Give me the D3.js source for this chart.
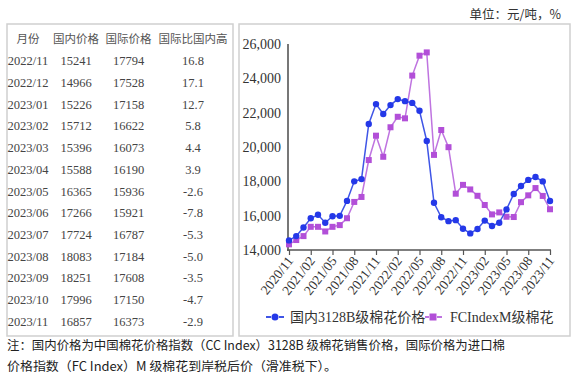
<!DOCTYPE html>
<html><head><meta charset="utf-8">
<script src="https://cdn.jsdelivr.net/npm/d3@7"></script>
<style>
html,body{margin:0;padding:0;background:#fff;}
svg{display:block;}
</style></head>
<body>
<script>
const months = ["2020/11","2020/12","2021/01","2021/02","2021/03","2021/04","2021/05","2021/06","2021/07","2021/08","2021/09","2021/10","2021/11","2021/12","2022/01","2022/02","2022/03","2022/04","2022/05","2022/06","2022/07","2022/08","2022/09","2022/10","2022/11","2022/12","2023/01","2023/02","2023/03","2023/04","2023/05","2023/06","2023/07","2023/08","2023/09","2023/10","2023/11"];
const domestic = [14560,14810,15310,15850,16050,15590,15970,15990,16860,18000,18130,21340,22500,21920,22440,22790,22670,22570,22110,20350,16750,15910,15680,15740,15241,14966,15226,15712,15396,15588,16365,17266,17724,18083,18251,17996,16857];
const intl = [14330,14580,14810,15350,15350,15080,15350,15450,15850,16800,17090,19240,20660,19430,21150,21760,21670,24160,25320,25510,19540,20990,19990,17280,17794,17528,17158,16622,16073,16190,15936,15921,16787,17184,17608,17150,16373];
const xTickLabels = ["2020/11","2021/02","2021/05","2021/08","2021/11","2022/02","2022/05","2022/08","2022/11","2023/02","2023/05","2023/08","2023/11"];
const yTicks = [14000,16000,18000,20000,22000,24000,26000];
const seriesNames = ["国内3128B级棉花价格","FCIndexM级棉花"];

const tableHeader = ["月份","国内价格","国际价格","国际比国内高"];
const tableMonths = ["2022/11","2022/12","2023/01","2023/02","2023/03","2023/04","2023/05","2023/06","2023/07","2023/08","2023/09","2023/10","2023/11"];
const tableDomestic = [15241,14966,15226,15712,15396,15588,16365,17266,17724,18083,18251,17996,16857];
const tableIntl = [17794,17528,17158,16622,16073,16190,15936,15921,16787,17184,17608,17150,16373];
const tableDiff = ["16.8","17.1","12.7","5.8","4.4","3.9","-2.6","-7.8","-5.3","-5.0","-3.5","-4.7","-2.9"];

const unitText = "单位：元/吨，%";
const note1 = "注：国内价格为中国棉花价格指数（CC Index）3128B 级棉花销售价格，国际价格为进口棉";
const note2 = "价格指数（FC Index）M 级棉花到岸税后价（滑准税下）。";

const SERIF = '"Liberation Serif", "Noto Sans CJK SC"';
const CJK = '"Noto Sans CJK SC"';

const W = 578, H = 380;
const svg = d3.select("body").append("svg").attr("width", W).attr("height", H);

// frames
svg.append("rect").attr("x",7).attr("y",24).attr("width",226).attr("height",312)
  .attr("fill","none").attr("stroke","#cfcfcf").attr("stroke-width",1.5);
svg.append("rect").attr("x",239).attr("y",24).attr("width",331).attr("height",312)
  .attr("fill","none").attr("stroke","#cfcfcf").attr("stroke-width",1.5);

// unit
svg.append("text").style("font-family",CJK).attr("x",561).attr("y",19).attr("text-anchor","end")
  .attr("font-size",12.5).attr("fill","#333").text(unitText);

// table
const colX = [28,76,128.5,193];
const tg = svg.append("g");
tg.selectAll("text.h").data(tableHeader).join("text").style("font-family",CJK)
  .attr("x",(d,i)=>colX[i]).attr("y",42.5).attr("text-anchor","middle")
  .attr("font-size",11.5).attr("fill","#555").text(d=>d);
const rowY = d3.scaleLinear().domain([0,12]).range([61,321.7]);
tableMonths.forEach((m,i)=>{
  const vals=[m,String(tableDomestic[i]),String(tableIntl[i]),tableDiff[i]];
  vals.forEach((v,j)=>{
    tg.append("text").style("font-family",SERIF).attr("x",colX[j]).attr("y",rowY(i)+4.2).attr("text-anchor","middle")
      .attr("font-size",12.5).attr("fill","#444").text(v);
  });
});

// chart
const x = d3.scalePoint().domain(months).range([289,550]);
const y = d3.scaleLinear().domain([14000,26000]).range([250,44]);

// y axis
svg.append("line").attr("x1",288).attr("x2",288).attr("y1",44).attr("y2",251)
  .attr("stroke","#777").attr("stroke-width",2);
svg.selectAll("text.yt").data(yTicks).join("text").style("font-family",SERIF)
  .attr("x",281).attr("y",d=>y(d)+5).attr("text-anchor","end")
  .attr("font-size",14).attr("fill","#333")
  .text(d=>d3.format(",")(d));

// x axis
const xAxis = d3.axisBottom(x).tickValues(xTickLabels).tickSize(5).tickFormat("");
const xg = svg.append("g").attr("transform","translate(0,250)").call(xAxis);
xg.select(".domain").attr("stroke","#555").attr("stroke-width",1.5).attr("d","M287,0H551");
xg.selectAll(".tick line").attr("stroke","#555").attr("stroke-width",1.2);
svg.selectAll("text.xt").data(xTickLabels).join("text").style("font-family",SERIF)
  .attr("transform",d=>`translate(${x(d)+5},${261}) rotate(-52)`)
  .attr("text-anchor","end").attr("font-size",13.5).attr("fill","#333")
  .text(d=>d);

const blue="#2438e8", blueLine="#3f55e6", purple="#b24fd8", purpleLine="#bf74e0";
const line = d3.line().x((d,i)=>x(months[i])).y(d=>y(d));

svg.append("path").datum(intl).attr("d",line).attr("fill","none")
  .attr("stroke",purpleLine).attr("stroke-width",1.5);
svg.selectAll("rect.pm").data(intl).join("rect")
  .attr("x",(d,i)=>x(months[i])-3).attr("y",d=>y(d)-3).attr("width",6).attr("height",6)
  .attr("fill",purple);

svg.append("path").datum(domestic).attr("d",line).attr("fill","none")
  .attr("stroke",blueLine).attr("stroke-width",1.5);
svg.selectAll("circle.bm").data(domestic).join("circle")
  .attr("cx",(d,i)=>x(months[i])).attr("cy",d=>y(d)).attr("r",3.2).attr("fill",blue);

// legend
const lg = svg.append("g");
const ly = 317;
lg.append("line").attr("x1",266).attr("x2",271).attr("y1",ly).attr("y2",ly).attr("stroke",blueLine).attr("stroke-width",2);
lg.append("line").attr("x1",279).attr("x2",284).attr("y1",ly).attr("y2",ly).attr("stroke",blueLine).attr("stroke-width",2);
lg.append("circle").attr("cx",275).attr("cy",ly).attr("r",3.5).attr("fill",blue);
lg.append("text").style("font-family",SERIF).attr("x",290).attr("y",ly+5).attr("font-size",14)
  .attr("fill","#333").text(seriesNames[0]);
lg.append("line").attr("x1",425).attr("x2",429).attr("y1",ly).attr("y2",ly).attr("stroke",purpleLine).attr("stroke-width",2);
lg.append("line").attr("x1",437).attr("x2",442).attr("y1",ly).attr("y2",ly).attr("stroke",purpleLine).attr("stroke-width",2);
lg.append("rect").attr("x",429.5).attr("y",ly-3.5).attr("width",7).attr("height",7).attr("fill",purple);
lg.append("text").style("font-family",SERIF).attr("x",450).attr("y",ly+5).attr("font-size",14)
  .attr("fill","#333").text(seriesNames[1]);

// footnote
svg.append("text").style("font-family",CJK).attr("x",7).attr("y",350).attr("font-size",12.5)
  .attr("fill","#222").attr("textLength",498).attr("lengthAdjust","spacingAndGlyphs").text(note1);
svg.append("text").style("font-family",CJK).attr("x",7).attr("y",371).attr("font-size",12.5)
  .attr("fill","#222").attr("textLength",330).attr("lengthAdjust","spacingAndGlyphs").text(note2);
</script>
</body></html>
